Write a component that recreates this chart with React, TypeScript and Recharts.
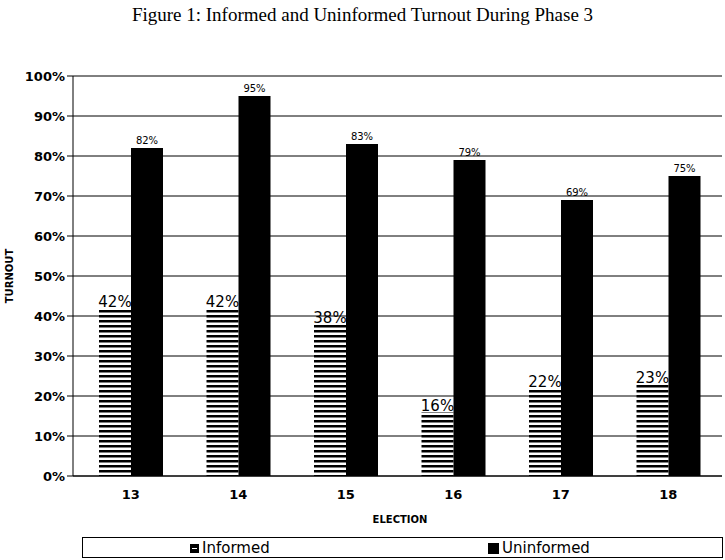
import React from "react";
import { Bar, BarChart, CartesianGrid, LabelList, XAxis, YAxis } from "recharts";

const ELECTIONS = ["13", "14", "15", "16", "17", "18"];
const INFORMED = [42, 42, 38, 16, 22, 23];
const UNINFORMED = [82, 95, 83, 79, 69, 75];
const Y_TICKS = [0, 10, 20, 30, 40, 50, 60, 70, 80, 90, 100];

const data = ELECTIONS.map((e, i) => ({
  election: e,
  informed: INFORMED[i],
  uninformed: UNINFORMED[i],
}));

const FONT = "Verdana, 'DejaVu Sans', sans-serif";
const TICK = { fill: "#000", fontSize: 13, fontWeight: 700, fontFamily: FONT };

export default function App() {
  return (
    <div style={{ position: "absolute", left: 0, top: 0, width: 725, height: 560, background: "#fff" }}>
      <div
        style={{
          position: "absolute",
          top: 4,
          width: 725,
          textAlign: "center",
          fontFamily: "'Liberation Serif', 'Times New Roman', serif",
          fontSize: 19,
        }}
      >
        Figure 1: Informed and Uninformed Turnout During Phase 3
      </div>
      <BarChart
        width={725}
        height={560}
        data={data}
        margin={{ top: 76, right: 3, bottom: 54, left: 0 }}
        barSize={32}
        barGap={0}
      >
        <defs>
          <pattern id="stripes" width="8" height="5" patternUnits="userSpaceOnUse">
            <rect width="8" height="5" fill="#fff" />
            <rect y="0" width="8" height="2.5" fill="#000" />
          </pattern>
        </defs>
        <CartesianGrid vertical={false} stroke="#000" strokeWidth={1} />
        <XAxis
          dataKey="election"
          tick={TICK}
          tickLine={false}
          axisLine={{ stroke: "#000" }}
          height={30}
          tickMargin={8}
          padding={{ left: 4, right: 0 }}
        />
        <YAxis
          domain={[0, 100]}
          ticks={Y_TICKS}
          tickFormatter={(v) => `${v}%`}
          tick={TICK}
          tickLine={{ stroke: "#000" }}
          axisLine={{ stroke: "#000" }}
          width={73}
          interval={0}
        />
        <YAxis yAxisId="r" orientation="right" width={0} tick={false} tickLine={false} axisLine={{ stroke: "#000" }} />
        <Bar dataKey="informed" fill="url(#stripes)" isAnimationActive={false}>
          <LabelList
            dataKey="informed"
            position="top"
            formatter={(v: number) => `${v}%`}
            style={{ fill: "#000", fontSize: 15, fontFamily: FONT }}
            offset={1}
          />
        </Bar>
        <Bar dataKey="uninformed" fill="#000" isAnimationActive={false}>
          <LabelList
            dataKey="uninformed"
            position="top"
            formatter={(v: number) => `${v}%`}
            style={{ fill: "#000", fontSize: 10, fontFamily: FONT }}
            offset={4}
          />
        </Bar>
        <text x={13} y={276} transform="rotate(-90 13 276)" textAnchor="middle" style={{ fontSize: 10, fontWeight: 700, fontFamily: FONT }}>
          TURNOUT
        </text>
        <text x={400} y={523} textAnchor="middle" style={{ fontSize: 10, fontWeight: 700, fontFamily: FONT }}>
          ELECTION
        </text>
      </BarChart>
      <div
        style={{
          position: "absolute",
          left: 82,
          top: 537,
          width: 639,
          height: 19,
          border: "1px solid #000",
          fontFamily: "'DejaVu Sans', sans-serif",
          fontSize: 15,
          lineHeight: "19px",
        }}
      >
        <span style={{ position: "absolute", left: 107, top: 1, display: "flex", alignItems: "center" }}>
          <span style={{ display: "inline-block", width: 9, height: 9, border: "2px solid #000", background: "linear-gradient(#000 0 35%, #fff 35% 65%, #000 65%)", marginRight: 3, boxSizing: "border-box" }} />
          Informed
        </span>
        <span style={{ position: "absolute", left: 405, top: 1, display: "flex", alignItems: "center" }}>
          <span style={{ display: "inline-block", width: 11, height: 11, background: "#000", marginRight: 3 }} />
          Uninformed
        </span>
      </div>
    </div>
  );
}
